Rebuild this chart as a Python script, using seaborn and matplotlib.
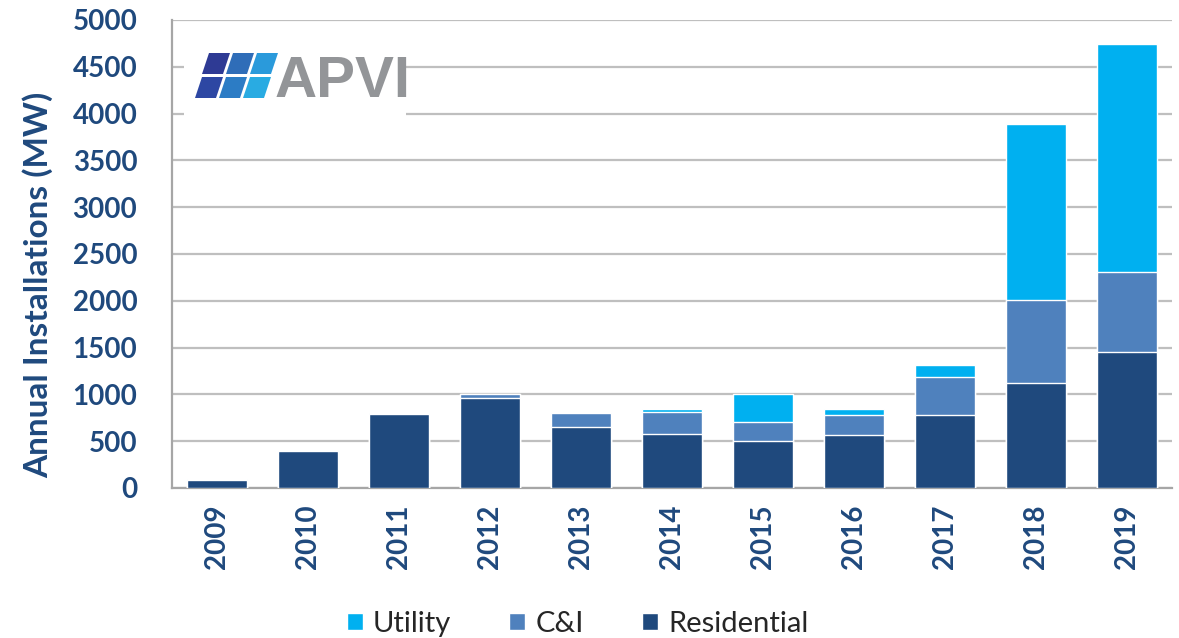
import numpy as np
import pandas as pd
import seaborn as sns
import matplotlib.pyplot as plt
from matplotlib.patches import Patch, Polygon, Rectangle


# -----------------------------
# DATA (MW)
# -----------------------------
years = ["2009", "2010", "2011", "2012", "2013", "2014", "2015", "2016", "2017", "2018", "2019"]
residential = [90, 390, 795, 962, 650, 580, 500, 565, 780, 1125, 1450]
commercial = [0, 0, 0, 42, 150, 232, 205, 215, 405, 885, 860]
utility = [5, 5, 5, 0, 0, 35, 295, 60, 125, 1880, 2435]

df = pd.DataFrame({
    "Year": years,
    "Residential": residential,
    "C&I": commercial,
    "Utility": utility,
})
df["ResCI"] = df["Residential"] + df["C&I"]
df["Total"] = df["ResCI"] + df["Utility"]

NAVY = "#1F497D"
C_RES = "#1F497D"
C_CI = "#4F81BD"
C_UT = "#00B0F0"
GRID = "#BFBFBF"

# -----------------------------
# PLOT
# -----------------------------
sns.set_style("white")
plt.rcParams["font.family"] = ["Lato", "DejaVu Sans"]

fig = plt.figure(figsize=(11.79, 6.38), dpi=100)
ax = fig.add_axes([172 / 1179, 1 - 488 / 638, 1000 / 1179, 468 / 638])

# stacked bars drawn as layered cumulative totals
sns.barplot(data=df, x="Year", y="Total", color=C_UT, width=0.66,
            saturation=1, ax=ax, zorder=3)
sns.barplot(data=df, x="Year", y="ResCI", color=C_CI, width=0.66,
            saturation=1, ax=ax, zorder=3)
sns.barplot(data=df, x="Year", y="Residential", color=C_RES, width=0.66,
            saturation=1, ax=ax, zorder=3)

ax.set_ylim(0, 5000)
ax.set_xlim(-0.5, len(years) - 0.5)
ax.set_yticks(np.arange(0, 5001, 500))
ax.yaxis.grid(True, color=GRID, linewidth=1.6, zorder=0)
ax.set_axisbelow(True)

for s in ["top", "right"]:
    ax.spines[s].set_visible(False)
for s in ["left", "bottom"]:
    ax.spines[s].set_color("#A6A6A6")
    ax.spines[s].set_linewidth(1.6)

ax.set_xticks(np.arange(len(years)))
ax.set_xticklabels(years, rotation=90, fontsize=20, fontweight="bold", color=NAVY)
ax.set_xticks(np.arange(-0.5, len(years), 1), minor=True)
ax.tick_params(axis="x", which="major", length=0, pad=12)
ax.tick_params(axis="x", which="minor", length=9, width=1.6, color="#A6A6A6", direction="out")
ax.tick_params(axis="y", length=5, width=1.4, color="#A6A6A6", pad=20)
for lbl in ax.get_yticklabels():
    lbl.set_fontsize(20)
    lbl.set_fontweight("bold")
    lbl.set_color(NAVY)

ax.set_xlabel("")
ax.set_ylabel("Annual Installations (MW)", fontsize=24, fontweight="bold",
              color=NAVY, labelpad=8)
ax.yaxis.set_label_coords(-0.119, 0.435)

# APVI logo: white panel, tiles and lettering
def px(x, y):
    return (x / 1179, 1 - y / 638)

fig.add_artist(Rectangle(px(184, 122), 222 / 1179, 88 / 638, transform=fig.transFigure,
                         facecolor="white", edgecolor="none", zorder=5))
tile_colors = [["#2E3A94", "#2F6DB8", "#2A9ADB"], ["#2D47A3", "#2C7CC5", "#29ABE2"]]
tw, th, gap, skew = 21, 21, 3, 7
for row in range(2):
    y0 = 98 - row * (th + gap)
    for col in range(3):
        x0 = 195 + col * (tw + gap) + row * skew
        pts = [px(x0, y0), px(x0 + tw, y0), px(x0 + tw + skew, y0 - th), px(x0 + skew, y0 - th)]
        fig.add_artist(Polygon(pts, closed=True, transform=fig.transFigure,
                               facecolor=tile_colors[1 - row][col], edgecolor="none", zorder=6))
fig.text(*px(275, 97), "APVI", fontsize=42, fontweight="bold", color="#939598",
         ha="left", va="baseline", zorder=6, family=["Liberation Sans", "DejaVu Sans"])

# legend
handles = [Patch(facecolor=C_UT, label="Utility"),
           Patch(facecolor=C_CI, label="C&I"),
           Patch(facecolor=C_RES, label="Residential")]
fig.legend(handles=handles, loc="center", bbox_to_anchor=(0.49, 1 - 624 / 638),
           ncol=3, frameon=False, fontsize=21, handlelength=0.55, handleheight=0.55,
           handletextpad=0.35, columnspacing=2.0)

fig.savefig("out.png", dpi=100)
